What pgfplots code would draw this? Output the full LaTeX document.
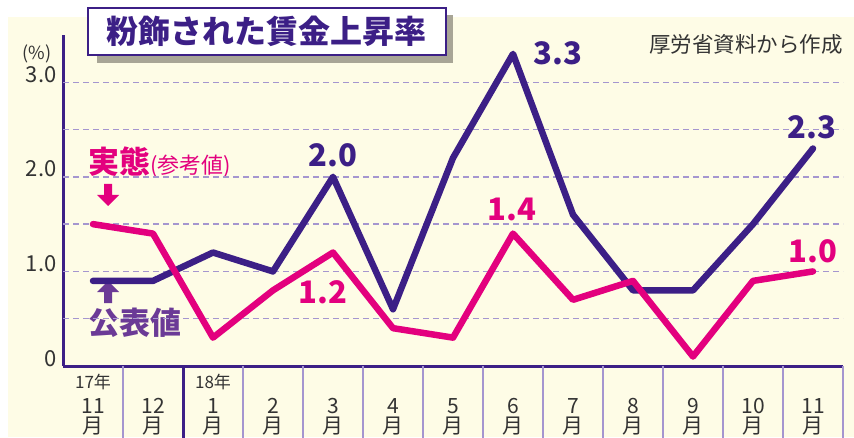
\documentclass[border=0pt]{standalone}
\usepackage{pgfplots}
\pgfplotsset{compat=1.18}
\usepackage{fontspec}
\setmainfont{Noto Sans CJK JP}
\definecolor{cream}{HTML}{FEFCE6}
\definecolor{navy}{HTML}{3C1F86}
\definecolor{mag}{HTML}{E3007E}
\definecolor{lav}{HTML}{A596CF}
\definecolor{pub}{HTML}{6B3A96}
\definecolor{shadowc}{HTML}{A8A596}
\definecolor{src}{HTML}{333333}
\newcommand\ml[1]{\textnormal{#1}\\\textnormal{月}}

\pgfplotstableread{
x koho jittai
0  0.9 1.5
1  0.9 1.4
2  1.2 0.3
3  1.0 0.8
4  2.0 1.2
5  0.6 0.4
6  2.2 0.3
7  3.3 1.4
8  1.6 0.7
9  0.8 0.9
10 0.8 0.1
11 1.5 0.9
12 2.3 1.0
}\wages

\begin{document}
\begin{tikzpicture}
\useasboundingbox (0pt,0pt) rectangle (854pt,437pt);
\fill[cream] (8pt,0pt) rectangle (854pt,420pt);
\fill[shadowc] (97pt,374pt) rectangle (453pt,422pt);
\draw[navy, line width=2pt, fill=white] (88pt,382pt) rectangle (446pt,429pt);
\node[navy, anchor=base, inner sep=0pt, font=\fontsize{32}{32}\selectfont\bfseries] at (266.5pt,393pt) {粉飾された賃金上昇率};
\node[src, anchor=base east, inner sep=0pt, font=\fontsize{21.5}{21.5}\selectfont] at (843pt,384pt) {厚労省資料から作成};
\node[src, inner sep=0pt, font=\fontsize{18}{18}\selectfont] at (37pt,383pt) {(\%)};
% legend-like annotations
\node[mag, anchor=base west, inner sep=0pt] at (88pt,263pt) {{\fontsize{31}{31}\selectfont\bfseries 実態}{\fontsize{22}{22}\selectfont (参考値)}};
\fill[mag] (104pt,253pt)--(112pt,253pt)--(112pt,242pt)--(119pt,242pt)--(108pt,231pt)--(97pt,242pt)--(104pt,242pt)--cycle;
\fill[pub] (104pt,134pt)--(112pt,134pt)--(112pt,145pt)--(119pt,145pt)--(108pt,156pt)--(97pt,145pt)--(104pt,145pt)--cycle;
\node[pub, anchor=base west, inner sep=0pt, font=\fontsize{31}{31}\selectfont\bfseries] at (88pt,103pt) {公表値};
\begin{axis}[
  at={(63pt,71pt)}, anchor=south west,
  scale only axis, width=780pt, height=331pt,
  xmin=-0.5, xmax=12.5, ymin=0, ymax=3.5,
  axis x line*=bottom, axis y line*=left,
  axis line style={navy, line width=3pt},
  clip=false,
  major tick length=0pt,
  tick style={draw=none},
  ytick={0,1,2,3},
  yticklabels={\textnormal{0},\textnormal{1.0},\textnormal{2.0},\textnormal{3.0}},
  yticklabel style={anchor=base east, font=\fontsize{22}{22}\selectfont, text=src, xshift=-3pt},
  extra y ticks={0.5,1,1.5,2,2.5,3},
  extra y tick labels={},
  extra y tick style={grid=major, major grid style={lav, line width=1.3pt, dash pattern=on 6pt off 4pt}},
  xtick={0,...,12},
  xticklabels={\ml{11},\ml{12},\ml{1},\ml{2},\ml{3},\ml{4},\ml{5},\ml{6},\ml{7},\ml{8},\ml{9},\ml{10},\ml{11}},
  xticklabel style={anchor=north, align=center, inner sep=0pt, yshift=-32pt, font=\fontsize{21}{20}\selectfont, text=src},
  /pgf/number format/assume math mode=true,
]
\pgfplotsinvokeforeach{0,2,3,...,12}{
  \draw[lav, line width=2pt] (axis cs:#1+0.5,0) -- ++(0pt,-75pt);
}
\draw[navy, line width=3pt] (axis cs:1.5,0) -- ++(0pt,-75pt);
\node[src, anchor=base, inner sep=0pt, font=\fontsize{17}{17}\selectfont] at ([yshift=-22pt]axis cs:0,0) {17年};
\node[src, anchor=base, inner sep=0pt, font=\fontsize{17}{17}\selectfont] at ([yshift=-22pt]axis cs:2,0) {18年};
\addplot[navy, line width=6.5pt, line join=round, line cap=round] table[x=x, y=koho] {\wages};
\addplot[mag, line width=6.5pt, line join=round, line cap=round] table[x=x, y=jittai] {\wages};
\node[navy, font=\fontsize{31}{31}\selectfont\bfseries] at (axis cs:4,2.23) {2.0};
\node[navy, font=\fontsize{31}{31}\selectfont\bfseries] at (axis cs:7.75,3.31) {3.3};
\node[navy, font=\fontsize{31}{31}\selectfont\bfseries] at (axis cs:11.98,2.52) {2.3};
\node[mag, font=\fontsize{31}{31}\selectfont\bfseries] at (axis cs:6.98,1.66) {1.4};
\node[mag, font=\fontsize{31}{31}\selectfont\bfseries] at (axis cs:3.83,0.78) {1.2};
\node[mag, font=\fontsize{31}{31}\selectfont\bfseries] at (axis cs:12,1.21) {1.0};
\end{axis}
\end{tikzpicture}
\end{document}
